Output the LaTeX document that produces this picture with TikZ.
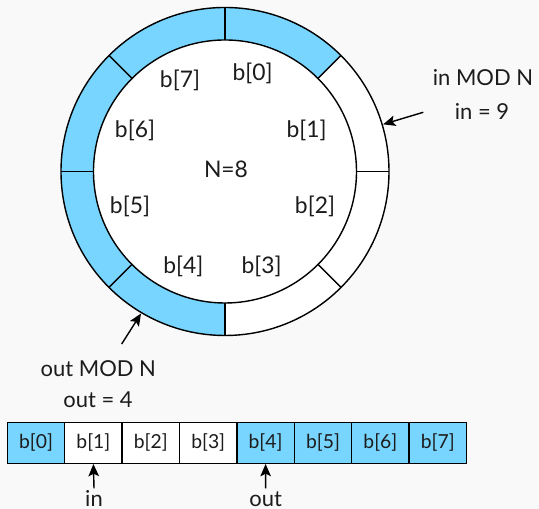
\documentclass[tikz,border=0pt]{standalone}
\usepackage{fontspec}
\setmainfont{Lato}
\usetikzlibrary{calc,arrows.meta}
\definecolor{bg}{HTML}{F9F9F9}
\definecolor{cellblue}{HTML}{78D5FF}
\definecolor{ink}{HTML}{1C1C1C}
\tikzset{
  ringlabel/.style={text=ink,inner sep=0pt,font=\fontsize{13}{15}\selectfont},
  note/.style={text=ink,inner sep=1pt,font=\fontsize{12.5}{15}\selectfont},
  cell/.style={draw=black,line width=0.8pt,minimum width=1.148cm,minimum height=0.812cm,inner sep=0pt,text=ink,font=\fontsize{11}{13}\selectfont},
  bluecell/.style={cell,fill=cellblue},
  whitecell/.style={cell,fill=white},
  ptr/.style={-{Stealth[length=7pt,width=6pt,inset=1.5pt]},line width=0.8pt,black},
  ringline/.style={draw=black,line width=0.8pt}
}
\begin{document}
\begin{tikzpicture}[x=0.02cm,y=0.02cm]
\fill[bg] (0,0) rectangle (539,509);
\useasboundingbox (0,0) rectangle (539,509);
\coordinate (C) at (225,337.5);
\def\Ro{164}
\def\Ri{131.5}
% sectors
\foreach \a/\col in {45/cellblue,0/white,-45/white,-90/white,-135/cellblue,-180/cellblue,135/cellblue,90/cellblue}{
  \fill[\col] ($(C)+(\a:\Ro)$) arc[start angle=\a,end angle=\a+45,radius=\Ro]
     -- ($(C)+(\a+45:\Ri)$) arc[start angle=\a+45,end angle=\a,radius=\Ri] -- cycle;
}
\fill[white] (C) circle[radius=\Ri];
\draw[ringline] (C) circle[radius=\Ro];
\draw[ringline] (C) circle[radius=\Ri];
\foreach \a in {0,45,...,315}{
  \draw[ringline] ($(C)+(\a:\Ri)$) -- ($(C)+(\a:\Ro)$);
}
% ring labels
\node[ringlabel] (r0) at (252.7,435.7) {b[0]};
\node[ringlabel] (r1) at (306.7,379) {b[1]};
\node[ringlabel] (r2) at (315,302.3) {b[2]};
\node[ringlabel] (r3) at (261.7,242.3) {b[3]};
\node[ringlabel] (r4) at (183.3,242.3) {b[4]};
\node[ringlabel] (r5) at (130,302.3) {b[5]};
\node[ringlabel] (r6) at (135,379) {b[6]};
\node[ringlabel] (r7) at (180,429) {b[7]};
\node[ringlabel] (nn) at (226,340) {N=8};
% in pointer on ring
\node[note] (inmod) at (483,431) {in MOD N};
\node[note] (ineq) at (482,397) {in = 9};
\coordinate (inTail) at (423.3,396.7);
\coordinate (inHead) at ($(C)+(16.6:165)$);
\draw[ptr] (inTail) -- (inHead);
% out pointer on ring
\node[note] (outmod) at (98.3,140.7) {out MOD N};
\node[note] (outeq) at (98,109) {out = 4};
\coordinate (outTail) at (121.7,165);
\coordinate (outHead) at ($(C)+(-120.6:165)$);
\draw[ptr] (outTail) -- (outHead);
% array
\foreach \i/\sty in {0/bluecell,1/whitecell,2/whitecell,3/whitecell,4/bluecell,5/bluecell,6/bluecell,7/bluecell}{
  \node[\sty] (a\i) at ({7.3+57.4*(\i+0.5)},66) {b[\i]};
}
\node[note,anchor=base] (inlab) at (94,2.5) {in};
\node[note,anchor=base] (outlab) at (265.7,2.5) {out};
\draw[ptr] (inlab.north) -- (a1.south);
\draw[ptr] (inlab.north -| outlab) -- (a4.south);
\end{tikzpicture}
\end{document}
